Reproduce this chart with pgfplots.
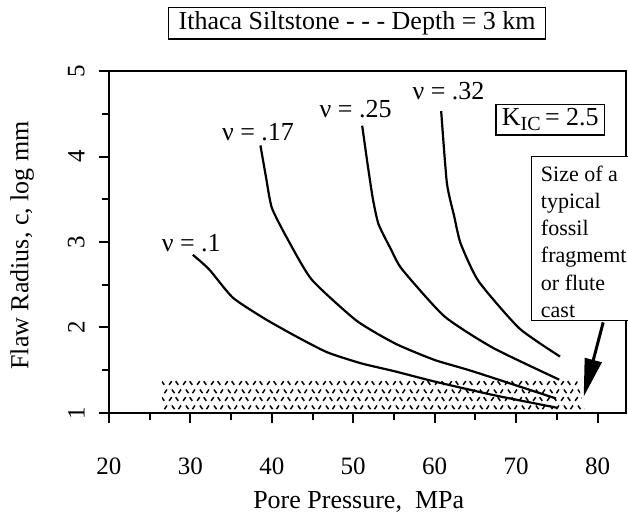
\documentclass[border=0pt]{standalone}
\usepackage{fontspec}
\setmainfont{Liberation Serif}
\usepackage{pgfplots}
\pgfplotsset{compat=1.18}
\usetikzlibrary{patterns,arrows.meta}

% small dashes, like the stippled band in the figure
\pgfdeclarepatternformonly{stipple}{\pgfpoint{0pt}{0pt}}{\pgfpoint{7pt}{8pt}}{\pgfpoint{7pt}{8pt}}{
  \pgfsetlinewidth{0.8pt}
  \pgfpathmoveto{\pgfpoint{0.6pt}{0.6pt}}\pgfpathlineto{\pgfpoint{2.0pt}{2.5pt}}
  \pgfpathmoveto{\pgfpoint{4.1pt}{2.5pt}}\pgfpathlineto{\pgfpoint{5.5pt}{0.6pt}}
  \pgfpathmoveto{\pgfpoint{2.1pt}{6.5pt}}\pgfpathlineto{\pgfpoint{3.5pt}{4.6pt}}
  \pgfpathmoveto{\pgfpoint{5.6pt}{4.6pt}}\pgfpathlineto{\pgfpoint{6.9pt}{6.5pt}}
  \pgfusepath{stroke}
}

\pgfplotsset{nucurve/.style={black, no marks, line width=1.1pt, smooth, tension=0.35}}

\begin{document}
\begin{tikzpicture}
\path[use as bounding box] (-54.5pt,-50.5pt) rectangle (259.5pt,206.5pt);
\begin{axis}[
  at={(0,0)}, anchor=south west,
  scale only axis, width=258.5pt, height=171pt,
  xmin=20, xmax=83.5, ymin=1, ymax=5,
  clip=false,
  xtick={20,30,40,50,60,70,80},
  minor xtick={25,35,45,55,65,75},
  ytick={1,2,3,4,5},
  minor ytick={1.5,2.5,3.5,4.5},
  tick pos=left,
  tick align=outside,
  major tick length=5pt,
  minor tick length=3.5pt,
  every tick/.style={black, line width=1pt},
  axis line style={line width=1.1pt},
  ticklabel style={font=\fontsize{12.5}{14}\selectfont},
  /pgf/number format/assume math mode=true,
  xticklabel style={anchor=north, inner sep=0pt},
  xticklabel shift=17pt,
  yticklabel style={rotate=90, anchor=south, inner sep=0pt},
  yticklabel shift=7pt,
  label style={font=\fontsize{13}{15}\selectfont},
  xlabel={Pore Pressure,\ \ MPa},
  xlabel style={at={(axis description cs:0.483,-0.26)}, anchor=center},
  ylabel={Flaw Radius, c, log mm},
  ylabel style={at={(axis description cs:-0.168,0.49)}, anchor=center},
  title={Ithaca Siltstone - - - Depth = 3 km},
  title style={at={(axis description cs:0.48,1.105)}, anchor=center, draw,
    line width=0.8pt, inner xsep=5pt, inner ysep=2pt,
    font=\fontsize{13}{15}\selectfont},
]
% stippled band of typical fossil fragment size
\addplot[draw=none, no marks, pattern=stipple] coordinates {
  (26.5,1.0) (26.5,1.41) (77.5,1.38) (78.5,1.0)
} -- cycle;

\addplot[nucurve] coordinates {
  (30.3,2.85) (32.3,2.68) (35.2,2.35) (39.0,2.11) (42.9,1.90) (46.8,1.71)
  (51.0,1.58) (55.0,1.49) (59.9,1.37) (67.2,1.21) (75.1,1.06)
};
\addplot[nucurve] coordinates {
  (38.6,4.13) (39.3,3.75) (40.0,3.40) (41.9,3.04) (44.9,2.56) (50.4,2.08)
  (55.2,1.81) (60.0,1.62) (64.6,1.49) (74.9,1.17)
};
\addplot[nucurve] coordinates {
  (51.1,4.36) (51.7,3.95) (52.4,3.51) (53.1,3.21) (54.6,2.92) (56.0,2.68)
  (61.2,2.13) (67.2,1.76) (75.3,1.39)
};
\addplot[nucurve] coordinates {
  (60.8,4.53) (61.5,3.69) (62.4,3.30) (63.2,2.98) (65.4,2.54) (70.4,1.99)
  (75.4,1.66)
};

\begin{scope}[font=\fontsize{13}{15}\selectfont]
\node at (axis cs:30.1,2.99) {ν = .1};
\node at (axis cs:38.3,4.28) {ν = .17};
\node at (axis cs:50.3,4.56) {ν = .25};
\node at (axis cs:61.7,4.77) {ν = .32};
\node[draw, fill=white, line width=0.8pt, inner xsep=3pt, inner ysep=2pt]
  at (axis cs:74.2,4.43) {K\raisebox{-0.4ex}{\fontsize{10}{10}\selectfont IC}\,= 2.5};
\end{scope}

% callout box, running off the right edge
\fill[white] (axis cs:71.9,2.08) rectangle (axis cs:90,4.0);
\draw[line width=0.8pt] (axis cs:90,4.0) -- (axis cs:71.9,4.0)
  -- (axis cs:71.9,2.08) -- (axis cs:90,2.08);
\node[anchor=north west, align=left, inner xsep=4.5pt, inner ysep=4.5pt,
  font=\fontsize{11}{13.6}\selectfont] at (axis cs:71.9,4.0)
  {Size of a\\typical\\fossil\\fragmemt\\or flute\\cast};
\draw[line width=1.5pt, -{Triangle[length=19pt, width=8.5pt]}]
  (axis cs:80.7,2.06) -- (axis cs:78.3,1.19);
\end{axis}
\end{tikzpicture}
\end{document}
